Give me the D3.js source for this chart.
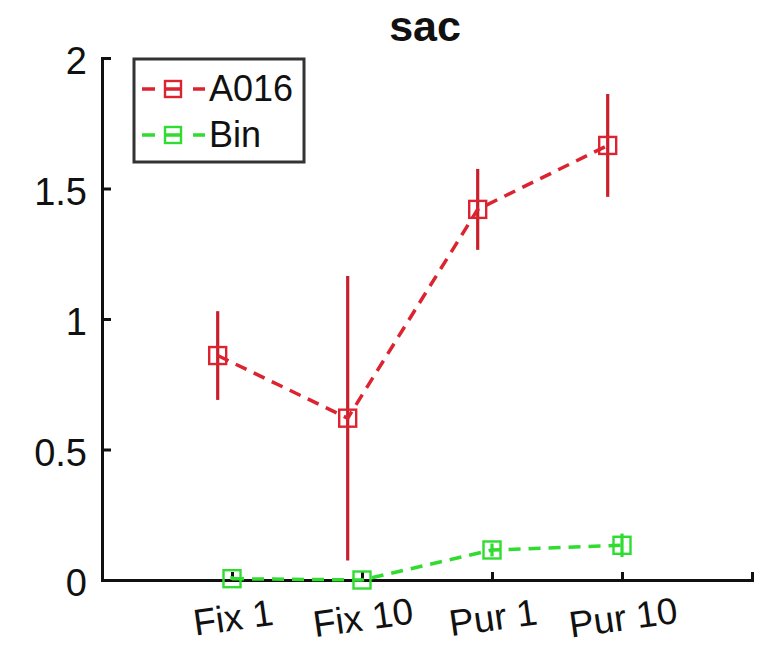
<!DOCTYPE html>
<html>
<head>
<meta charset="utf-8">
<script src="https://cdn.jsdelivr.net/npm/d3@7"></script>
<style>
  html, body { margin: 0; padding: 0; background: #fff; }
  svg { display: block; }
  text { font-family: "Liberation Sans", Arial, Helvetica, sans-serif; fill: #111; }
</style>
</head>
<body>
<svg id="chart" width="759" height="647"></svg>
<script>
// Conditions along the x axis
const categories = ["Fix 1", "Fix 10", "Pur 1", "Pur 10"];
// Mean values and error half-widths per series
const a016Values = [0.86, 0.62, 1.42, 1.665];
const a016Errors = [0.17, 0.545, 0.155, 0.197];
const binValues = [0.005, 0.0, 0.115, 0.133];
const binErrors = [0.01, 0.005, 0.025, 0.045];
const seriesNames = ["A016", "Bin"];
const yTicks = [0, 0.5, 1, 1.5, 2];
const titleText = "sac";

const svg = d3.select("#chart");

const x = d3.scaleLinear().domain([0, 5]).range([102, 752]);
const y = d3.scaleLinear().domain([0, 2]).range([580, 58]);

const series = [
  { name: seriesNames[0], values: a016Values, errors: a016Errors, shift: -0.11,
    color: "#dc2430", errColor: "#c91f2b" },
  { name: seriesNames[1], values: binValues, errors: binErrors, shift: 0,
    color: "#2fdc2f", errColor: "#2fdc2f" }
];

// Axes
const yAxis = d3.axisLeft(y).tickValues(yTicks).tickSize(-9).tickPadding(15)
  .tickFormat(d => d3.format("")(d));
const gy = svg.append("g").attr("transform", `translate(${x(0)},0)`).call(yAxis);
gy.select(".domain").attr("stroke", "#111").attr("stroke-width", 3);
gy.selectAll(".tick line").attr("stroke", "#111").attr("stroke-width", 3);
gy.selectAll(".tick text").attr("font-size", 38).attr("dy", "0.42em").attr("fill", "#111");

const xAxis = d3.axisBottom(x).tickValues([1, 2, 3, 4]).tickSize(-8).tickFormat("");
const gx = svg.append("g").attr("transform", `translate(0,${y(0)})`).call(xAxis);
gx.select(".domain").attr("stroke", "#111").attr("stroke-width", 3);
gx.selectAll(".tick line").attr("stroke", "#111").attr("stroke-width", 3);

// Tilted category labels
svg.append("g").selectAll("text").data(categories).join("text")
  .attr("transform", (d, i) => `translate(${x(i + 1) + 1},617) rotate(-8)`)
  .attr("text-anchor", "middle")
  .attr("dy", "0.36em")
  .attr("font-size", 37)
  .text(d => d);

// Title
svg.append("text").attr("x", 425).attr("y", 41)
  .attr("text-anchor", "middle").attr("font-size", 43).attr("font-weight", "bold")
  .text(titleText);

const markerSize = 17;

series.forEach(s => {
  const pts = s.values.map((v, i) => ({ cx: x(i + 1 + s.shift), v, e: s.errors[i] }));
  const g = svg.append("g");
  // error bars
  g.selectAll("line.err").data(pts).join("line").attr("class", "err")
    .attr("x1", d => d.cx).attr("x2", d => d.cx)
    .attr("y1", d => y(Math.max(0, d.v - d.e))).attr("y2", d => y(d.v + d.e))
    .attr("stroke", s.errColor).attr("stroke-width", 3.2);
  // dashed connecting line
  g.append("path").datum(pts)
    .attr("d", d3.line().x(d => d.cx).y(d => y(d.v)))
    .attr("fill", "none").attr("stroke", s.color).attr("stroke-width", 3.5)
    .attr("stroke-dasharray", "12,8");
  // square markers
  g.selectAll("rect").data(pts).join("rect")
    .attr("x", d => d.cx - markerSize / 2).attr("y", d => y(d.v) - markerSize / 2)
    .attr("width", markerSize).attr("height", markerSize)
    .attr("fill", "none").attr("stroke", s.color).attr("stroke-width", 2.4);
});

// Legend
const legend = svg.append("g");
legend.append("rect").attr("x", 134).attr("y", 59).attr("width", 170).attr("height", 103)
  .attr("fill", "#fff").attr("stroke", "#333").attr("stroke-width", 3);
series.forEach((s, i) => {
  const ly = 89 + i * 46;
  legend.append("line").attr("x1", 142).attr("x2", 205).attr("y1", ly).attr("y2", ly)
    .attr("stroke", s.color).attr("stroke-width", 3.5)
    .attr("stroke-dasharray", "13,9,18,11,13");
  legend.append("rect").attr("x", 165).attr("y", ly - 8).attr("width", 16).attr("height", 16)
    .attr("fill", "none").attr("stroke", s.color).attr("stroke-width", 2.4);
  legend.append("text").attr("x", 209).attr("y", ly + 12)
    .attr("font-size", 36).text(s.name);
});
</script>
</body>
</html>
